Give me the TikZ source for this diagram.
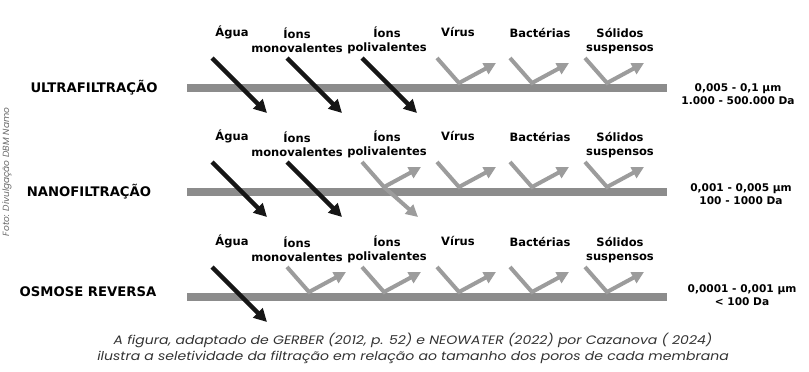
\documentclass[tikz,border=0pt]{standalone}
\usepackage{fontspec}
\setmainfont{DejaVu Sans}
\newfontfamily\capfont[FakeStretch=1.15]{Poppins}
\newfontfamily\credfont{Poppins}
\usetikzlibrary{arrows.meta}
\definecolor{barcol}{HTML}{8C8C8C}
\definecolor{rejcol}{HTML}{9C9C9C}
\definecolor{passcol}{HTML}{161616}
\definecolor{credcol}{HTML}{6A6A6A}
\definecolor{capcol}{HTML}{333333}
\tikzset{
  membrane/.style={draw=barcol, line width=8pt},
  passarrow/.style={draw=passcol, line width=4.3pt, -{Triangle[length=13pt,width=13pt]}},
  rejarrow/.style={draw=rejcol, line width=4pt, line join=miter, -{Triangle[length=12pt,width=12pt]}},
  partlabel/.style={font=\fontsize{11.5}{14}\selectfont\bfseries, align=center, inner sep=0pt},
  methlabel/.style={font=\fontsize{13.2}{15}\selectfont\bfseries, inner sep=0pt},
  sizelabel/.style={font=\fontsize{10.6}{13.5}\selectfont\bfseries, align=center, inner sep=0pt},
  caplabel/.style={font=\capfont\itshape\fontsize{12.2}{16}\selectfont, text=capcol, align=center, inner sep=0pt},
}
\newcommand\PassArrow[2]{%
  \coordinate (ps) at (#1,#2-30);
  \coordinate (pe) at (#1+55,#2+25);
  \draw[passarrow] (ps) -- (pe);}
\newcommand\RejArrow[2]{%
  \coordinate (rs) at (#1,#2-30);
  \coordinate (rv) at (#1+22,#2-5);
  \coordinate (rt) at (#1+59,#2-25);
  \draw[rejarrow] (rs) -- (rv) -- (rt);}
\newcommand\PartArrow[2]{%
  \coordinate (qs) at (#1,#2-30);
  \coordinate (qv) at (#1+22,#2-5);
  \coordinate (qt) at (#1+59,#2-25);
  \coordinate (qd) at (#1+56,#2+25);
  \draw[rejarrow] (qv) -- (qd);
  \draw[rejarrow] (qs) -- (qv) -- (qt);}
\newcommand\PartLabels[1]{%
  \node[partlabel] (agua#1) at (232,32+#1) {Água};
  \node[partlabel] (mono#1) at (297,40+#1) {Íons\\monovalentes};
  \node[partlabel] (poli#1) at (387,40+#1) {Íons\\polivalentes};
  \node[partlabel] (virus#1) at (458,32+#1) {Vírus};
  \node[partlabel] (bact#1) at (540,33+#1) {Bactérias};
  \node[partlabel] (sol#1) at (620,41+#1) {Sólidos\\suspensos};}
\begin{document}
\begin{tikzpicture}[x=1pt,y=-1pt]
\useasboundingbox (0,0) rectangle (809,372);
% rows
\foreach \yb in {88,192,297}{
  \coordinate (ml) at (187,\yb);
  \coordinate (mr) at (667,\yb);
  \draw[membrane] (ml) -- (mr);
}
% Ultrafiltration
\PartLabels{0}
\PassArrow{212}{88}
\PassArrow{287}{88}
\PassArrow{362}{88}
\RejArrow{437}{88}
\RejArrow{510}{88}
\RejArrow{585}{88}
% Nanofiltration
\PartLabels{104}
\PassArrow{212}{192}
\PassArrow{287}{192}
\PartArrow{362}{192}
\RejArrow{437}{192}
\RejArrow{510}{192}
\RejArrow{585}{192}
% Reverse osmosis
\PartLabels{209}
\PassArrow{212}{297}
\RejArrow{287}{297}
\RejArrow{362}{297}
\RejArrow{437}{297}
\RejArrow{510}{297}
\RejArrow{585}{297}
% method labels
\node[methlabel] (uf) at (94,88) {ULTRAFILTRAÇÃO};
\node[methlabel] (nf) at (89,192) {NANOFILTRAÇÃO};
\node[methlabel] (ro) at (88,292) {OSMOSE REVERSA};
% size labels
\node[sizelabel] (ufs) at (738,94) {0,005 - 0,1 µm\\1.000 - 500.000 Da};
\node[sizelabel] (nfs) at (741,194) {0,001 - 0,005 µm\\100 - 1000 Da};
\node[sizelabel] (ros) at (742,295) {0,0001 - 0,001 µm\\< 100 Da};
% credit
\node[font=\credfont\itshape\fontsize{9}{10}\selectfont, text=credcol, rotate=90, inner sep=0pt] (cred) at (7,172) {Foto: Divulgação DBM Namo};
% caption
\node[caplabel] (cap) at (413,348) {A figura, adaptado de GERBER (2012, p. 52) e NEOWATER (2022) por Cazanova ( 2024)\\ilustra a seletividade da filtração em relação ao tamanho dos poros de cada membrana};
\end{tikzpicture}
\end{document}
